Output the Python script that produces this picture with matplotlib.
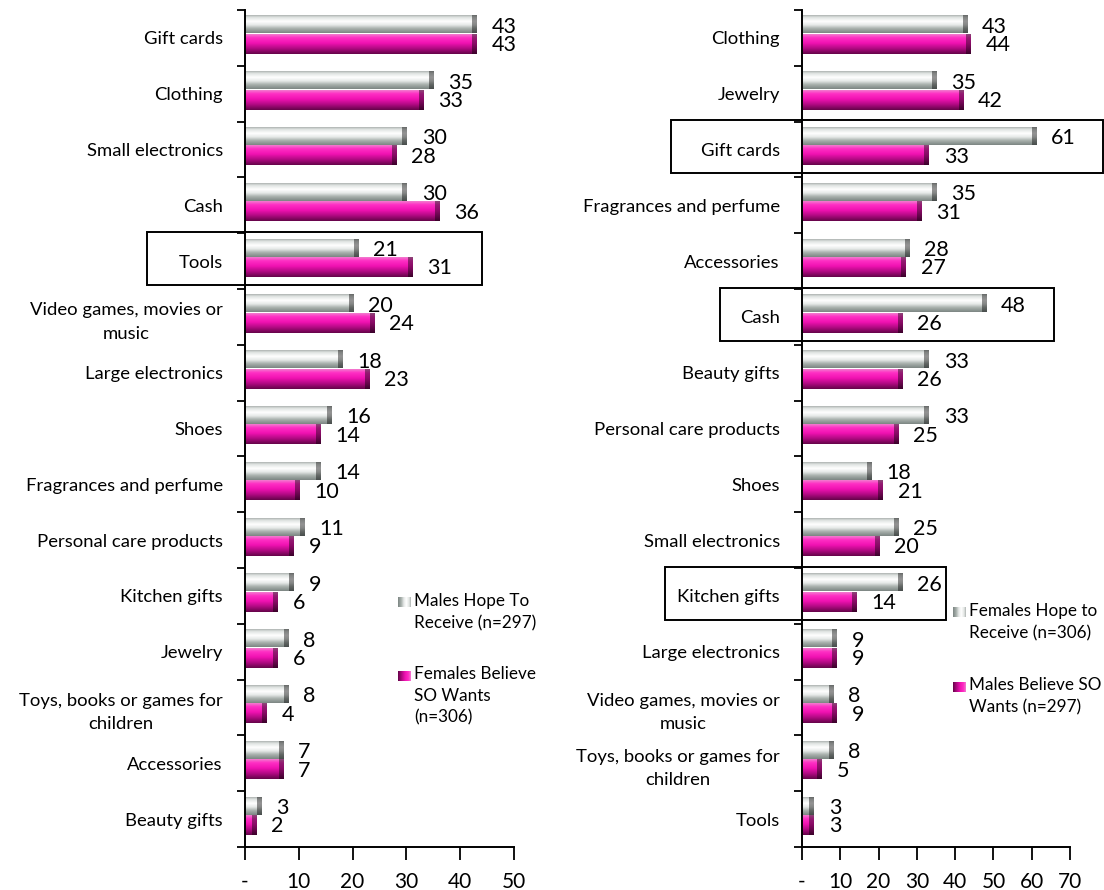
import numpy as np
import matplotlib
matplotlib.use("Agg")
import matplotlib.pyplot as plt
from matplotlib.colors import to_rgb
from matplotlib.patches import Rectangle

plt.rcParams['font.family'] = ['Lato', 'DejaVu Sans']

# --- left panel: what men hope for vs what women think they want
left_cats = ["Gift cards", "Clothing", "Small electronics", "Cash", "Tools",
             "Video games, movies or\nmusic", "Large electronics", "Shoes",
             "Fragrances and perfume", "Personal care products", "Kitchen gifts",
             "Jewelry", "Toys, books or games for\nchildren", "Accessories", "Beauty gifts"]
males_hope = [43, 35, 30, 30, 21, 20, 18, 16, 14, 11, 9, 8, 8, 7, 3]
females_believe = [43, 33, 28, 36, 31, 24, 23, 14, 10, 9, 6, 6, 4, 7, 2]
left_legend = ["Males Hope To\nReceive (n=297)", "Females Believe\nSO Wants\n(n=306)"]

# --- right panel: what women hope for vs what men think they want
right_cats = ["Clothing", "Jewelry", "Gift cards", "Fragrances and perfume", "Accessories",
              "Cash", "Beauty gifts", "Personal care products", "Shoes", "Small electronics",
              "Kitchen gifts", "Large electronics", "Video games, movies or\nmusic",
              "Toys, books or games for\nchildren", "Tools"]
females_hope = [43, 35, 61, 35, 28, 48, 33, 33, 18, 25, 26, 9, 8, 8, 3]
males_believe = [44, 42, 33, 31, 27, 26, 26, 25, 21, 20, 14, 9, 9, 5, 3]
right_legend = ["Females Hope to\nReceive (n=306)", "Males Believe SO\nWants (n=297)"]

GRAY_STOPS = [(0.0, "#aeb4b2"), (0.12, "#dfe3e1"), (0.35, "#ffffff"), (0.55, "#e6e9e8"),
              (0.75, "#a9b1ad"), (1.0, "#7c8683")]
PINK_STOPS = [(0.0, "#f27ccf"), (0.18, "#ff2fc4"), (0.45, "#f012b2"), (0.72, "#b20a83"),
              (1.0, "#650449")]


def gradient(stops, n=64, horizontal=False):
    pos = np.array([s[0] for s in stops])
    cols = np.array([to_rgb(s[1]) for s in stops])
    t = np.linspace(0, 1, n)
    arr = np.stack([np.interp(t, pos, cols[:, k]) for k in range(3)], axis=-1)
    if horizontal:
        return arr[None, :, :]
    return arr[:, None, :]


def draw_bar(ax, y, v, h, stops, capw):
    g = gradient(stops)
    ax.imshow(g, extent=(0, v, y + h / 2, y - h / 2), aspect='auto',
              interpolation='bilinear', zorder=2)
    # darker rounded end of each bar
    ax.imshow(g * 0.58, extent=(max(v - capw, 0), v, y + h / 2, y - h / 2), aspect='auto',
              interpolation='bilinear', zorder=3)


def panel(ax, cats, gray_vals, pink_vals, xmax, capw, boxes):
    n = len(cats)
    h = 0.32
    for i in range(n):
        draw_bar(ax, i - 0.24, gray_vals[i], h, GRAY_STOPS, capw)
        draw_bar(ax, i + 0.11, pink_vals[i], h + 0.03, PINK_STOPS, capw)
        ax.annotate(str(gray_vals[i]), (gray_vals[i], i - 0.2), xytext=(11, 0),
                    textcoords='offset points', ha='left', va='center', fontsize=15.5)
        ax.annotate(str(pink_vals[i]), (pink_vals[i], i + 0.13), xytext=(11, 0),
                    textcoords='offset points', ha='left', va='center', fontsize=15.5)

    ax.set_xlim(0, xmax)
    ax.set_ylim(n - 0.5, -0.5)
    ax.set_xticks(range(0, xmax + 1, 10))
    ax.set_xticklabels(['-'] + [str(t) for t in range(10, xmax + 1, 10)], fontsize=15)
    ax.tick_params(axis='x', length=9, width=1.3, pad=9, direction='out')

    ax.set_yticks(np.arange(n + 1) - 0.5)
    ax.set_yticklabels([])
    ax.set_yticks(range(n), minor=True)
    ax.set_yticklabels(cats, minor=True, fontsize=13.3, linespacing=1.55)
    for t in ax.get_yticklabels(minor=True):
        t.set_multialignment('center')
    ax.tick_params(axis='y', which='major', length=6, width=1.3, direction='out')
    ax.tick_params(axis='y', which='minor', length=0, pad=16)

    for s in ['top', 'right']:
        ax.spines[s].set_visible(False)
    for s in ['left', 'bottom']:
        ax.spines[s].set_linewidth(1.4)

    # highlight boxes around selected categories
    for cat, x0, x1 in boxes:
        i = cats.index(cat)
        ax.add_patch(Rectangle((x0, i - 0.52), x1 - x0, 0.95, fill=False, ec='black',
                               lw=1.4, clip_on=False, zorder=5))


def legend(fig, x, ys, labels):
    for (ym, yt), lab, stops in zip(ys, labels, [GRAY_STOPS, PINK_STOPS]):
        lax = fig.add_axes([x / 1104, 1 - (ym + 5) / 890, 13 / 1104, 10 / 890])
        lax.imshow(gradient(stops, horizontal=True)[:, ::-1], aspect='auto')
        lax.axis('off')
        fig.text((x + 16) / 1104, 1 - yt / 890, lab, fontsize=12.3, va='top', ha='left',
                 linespacing=1.45)


fig = plt.figure(figsize=(11.04, 8.9), dpi=100)
ax1 = fig.add_axes([245 / 1104, 1 - 847 / 890, 269 / 1104, 837 / 890])
ax2 = fig.add_axes([802 / 1104, 1 - 847 / 890, 268 / 1104, 837 / 890])

panel(ax1, left_cats, males_hope, females_believe, 50, 0.75,
      [("Tools", -18.2, 44.0)])
panel(ax2, right_cats, females_hope, males_believe, 70, 1.05,
      [("Gift cards", -34.2, 78.6), ("Cash", -21.4, 65.8), ("Kitchen gifts", -35.8, 37.6)])

legend(fig, 398, [(602, 593), (676, 666)], left_legend)
legend(fig, 953, [(612, 603), (687, 677)], right_legend)

fig.savefig("out.png", dpi=100)
